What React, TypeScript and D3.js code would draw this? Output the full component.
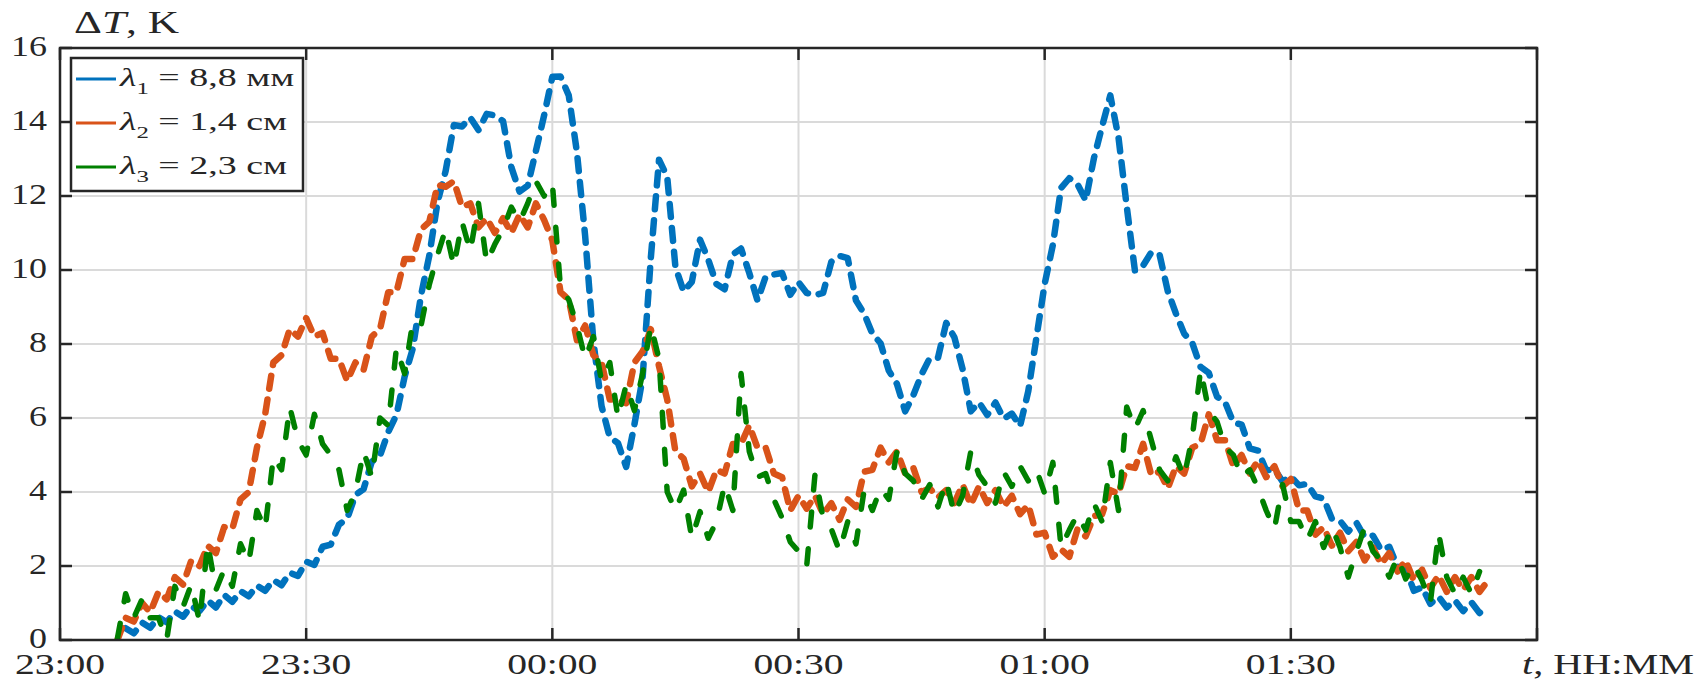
import React from "react";
import * as d3 from "d3";

// ---- data (minutes after 23:00, 1-min steps) ----
const xTickMinutes = [0, 30, 60, 90, 120, 150, 180];
const xTickLabels = ["23:00", "23:30", "00:00", "00:30", "01:00", "01:30", ""];
const yTicks = [0, 2, 4, 6, 8, 10, 12, 14, 16];
const seriesNames = ["8,8 мм", "1,4 см", "2,3 см"];

const blueStart = 8;
const blueValues = [
  0.32, 0.18, 0.47, 0.33, 0.62, 0.48, 0.77, 0.63, 0.92, 0.78, 1.07, 0.88, 1.22, 1.03, 1.32, 1.18, 1.47, 1.33, 1.62, 1.48,
  1.82, 1.73, 2.12, 2.03, 2.52, 2.58, 3.12, 3.28, 3.92, 4.08, 4.82, 4.98, 5.62, 6.08, 7.12, 7.88, 9.32, 10.38, 11.82, 12.68,
  13.92, 13.88, 14.12, 13.78, 14.22, 14.18, 14.02, 12.78, 12.12, 12.28, 13.22, 14.18, 15.22, 15.23, 14.72, 13.18, 10.92, 8.08, 6.32, 5.48,
  5.32, 4.68, 5.82, 7.08, 10.32, 12.98, 12.52, 10.08, 9.42, 9.68, 10.82, 10.28, 9.62, 9.48, 10.42, 10.58, 9.92, 9.18, 9.82, 9.88,
  9.92, 9.33, 9.67, 9.38, 9.32, 9.38, 10.22, 10.38, 10.32, 9.18, 8.82, 8.28, 8.02, 7.28, 6.92, 6.18, 6.62, 7.18, 7.62, 7.63,
  8.57, 8.18, 7.32, 6.18, 6.42, 6.08, 6.42, 5.98, 6.12, 5.78, 6.72, 8.18, 9.62, 10.68, 12.22, 12.48, 12.32, 11.88, 13.02, 13.88,
  14.72, 13.58, 11.72, 9.98, 10.12, 10.48, 10.42, 9.43, 8.82, 8.28, 8.02, 7.38, 7.22, 6.58, 6.42, 5.88, 5.82, 5.18, 5.12, 4.58,
  4.62, 4.28, 4.42, 4.18, 4.22, 3.88, 3.82, 3.28, 3.22, 2.93, 3.17, 2.78, 2.82, 2.43, 2.52, 1.98, 1.92, 1.33, 1.42, 0.98,
  1.17, 0.88, 1.07, 0.78, 1.02, 0.73, 0.92,
];

const orangeStart = 7;
const orangeValues = [
  0.0, 0.6, 0.5, 1.0, 0.75, 1.3, 1.1, 1.7, 1.5, 2.15, 2.0, 2.55, 2.35, 3.05, 3.0, 3.8, 4.0, 5.2, 6.1, 7.5,
  7.7, 8.4, 8.2, 8.7, 8.2, 8.3, 7.6, 7.6, 7.0, 7.5, 7.3, 8.2, 8.4, 9.4, 9.4, 10.3, 10.3, 11.1, 11.3, 12.3,
  12.25, 12.4, 11.7, 11.8, 11.15, 11.4, 11.0, 11.4, 11.0, 11.5, 11.15, 11.8, 11.35, 10.8, 9.4, 9.2, 8.1, 8.5, 7.7, 7.5,
  6.5, 6.5, 6.4, 7.5, 7.8, 8.4, 7.4, 6.5, 5.1, 4.9, 4.15, 4.5, 4.0, 4.6, 4.5, 5.3, 5.3, 5.8, 5.2, 5.2,
  4.5, 4.4, 3.5, 3.9, 3.55, 3.9, 3.4, 3.7, 3.25, 3.8, 3.6, 4.55, 4.6, 5.2, 4.8, 5.1, 4.5, 4.65, 4.0, 4.1,
  3.85, 4.05, 3.7, 4.2, 3.65, 4.15, 3.7, 4.05, 3.6, 3.9, 3.4, 3.65, 2.85, 2.9, 2.25, 2.45, 2.25, 3.0, 2.8, 3.35,
  3.4, 4.05, 3.95, 4.7, 4.65, 5.3, 4.45, 4.55, 4.1, 4.7, 4.5, 5.2, 5.3, 6.1, 5.4, 5.4, 4.7, 5.0, 4.5, 4.85,
  4.4, 4.7, 4.15, 4.35, 3.5, 3.5, 2.85, 3.05, 2.55, 2.9, 2.4, 2.65, 2.15, 2.5, 2.05, 2.35, 1.85, 2.15, 1.6, 1.9,
  1.4, 1.75, 1.3, 1.7, 1.35, 1.7, 1.3, 1.6,
];

const greenStart = 7;
const greenValues = [
  0.05, 1.25, 0.6, 1.1, 0.6, 0.6, 0.0, 1.45, 0.9, 1.5, 0.5, 2.6, 1.35, 1.9, 1.45, 2.6, 2.1, 3.5, 3.0, 4.95,
  4.6, 6.3, 5.4, 5.0, 6.1, 5.3, 5.0, 4.6, 3.5, 4.0, 5.1, 4.4, 6.0, 5.8, 7.9, 7.2, 8.6, 8.5, 9.6, 10.4,
  11.1, 10.1, 11.3, 10.5, 11.8, 10.2, 10.7, 11.1, 11.7, 11.3, 11.8, 12.4, 12.0, 12.35, 9.5, 9.2, 8.5, 7.6, 8.2, 7.0,
  7.5, 6.0, 6.9, 6.2, 7.2, 8.5, 7.6, 4.0, 3.5, 4.05, 2.75, 3.47, 2.75, 3.2, 4.2, 3.5, 7.2, 5.1, 4.4, 4.5,
  3.8, 3.3, 2.65, 2.4, 2.0, 4.45, 3.3, 3.0, 2.4, 3.2, 2.6, 4.05, 3.5, 4.1, 3.8, 5.1, 4.5, 4.3, 3.8, 4.2,
  3.6, 4.3, 3.4, 3.9, 5.1, 4.46, 4.15, 3.7, 4.55, 4.15, 4.7, 4.3, 4.6, 3.96, 4.8, 2.5, 2.97, 3.4, 2.97, 3.7,
  3.2, 4.8, 3.5, 6.3, 5.7, 6.2, 5.4, 4.6, 4.3, 4.95, 4.4, 5.5, 7.3, 6.2, 5.9, 5.2, 5.0, 4.4, 4.6, 4.1,
  3.5, 3.0, 4.2, 3.2, 3.2, 2.7, 3.2, 2.5, 3.05, 2.5, 1.7, 2.4, 3.05, 2.4, 2.15, 1.7, 2.25, 1.65, 2.05, 1.6,
  1.0, 2.9, 1.7, 1.25, 1.7, 1.25, 1.85,
];

const colors = ["#0072BD", "#D95319", "#008000"];

// ---- layout ----
const W = 1702;
const H = 681;
const left = 60;
const right = 1537;
const top = 48;
const bottom = 640;
const FONT = "'Liberation Serif', 'Times New Roman', serif";

function SText(props: {
  x: number;
  y: number;
  size: number;
  anchor?: string;
  sx?: number;
  children: React.ReactNode;
}) {
  const { x, y, size, anchor = "start", sx = 1.25, children } = props;
  return (
    <text
      transform={`translate(${x},${y}) scale(${sx},1)`}
      fontFamily={FONT}
      fontSize={size}
      textAnchor={anchor}
      fill="#262626"
    >
      {children}
    </text>
  );
}

export default function App() {
  const x = d3.scaleLinear().domain([0, 180]).range([left, right]);
  const y = d3.scaleLinear().domain([0, 16]).range([bottom, top]);

  const series = [
    { start: blueStart, values: blueValues, color: colors[0], width: 6.5, dash: "13 11" },
    { start: orangeStart, values: orangeValues, color: colors[1], width: 6.5, dash: "13 11" },
    { start: greenStart, values: greenValues, color: colors[2], width: 5.5, dash: "15 22" },
  ];

  const mkLine = (start: number) =>
    d3
      .line<number>()
      .x((_d, i) => x(start + i))
      .y((d) => y(d));

  const axisColor = "#262626";
  const gridColor = "#dadada";
  const tickLen = 12;

  return (
    <svg
      width={W}
      height={H}
      style={{ position: "absolute", left: 0, top: 0, background: "#fff" }}
    >
      <defs>
        <clipPath id="plot">
          <rect x={left} y={top - 4} width={right - left} height={bottom - top + 4} />
        </clipPath>
      </defs>
      <rect x={0} y={0} width={W} height={H} fill="#fff" />
      {/* grid */}
      {xTickMinutes.map((m) => (
        <line key={"gx" + m} x1={x(m)} x2={x(m)} y1={top} y2={bottom} stroke={gridColor} strokeWidth={2} />
      ))}
      {yTicks.map((v) => (
        <line key={"gy" + v} x1={left} x2={right} y1={y(v)} y2={y(v)} stroke={gridColor} strokeWidth={2} />
      ))}
      {/* data */}
      <g clipPath="url(#plot)">
        {series.map((s, k) => (
          <path
            key={"s" + k}
            d={mkLine(s.start)(s.values) || ""}
            fill="none"
            stroke={s.color}
            strokeWidth={s.width}
            strokeLinecap="round"
            strokeLinejoin="round"
            strokeDasharray={s.dash}
          />
        ))}
      </g>
      {/* axes box */}
      <rect x={left} y={top} width={right - left} height={bottom - top} fill="none" stroke={axisColor} strokeWidth={2.5} />
      {/* ticks */}
      {xTickMinutes.map((m) => (
        <g key={"tx" + m}>
          <line x1={x(m)} x2={x(m)} y1={bottom} y2={bottom - tickLen} stroke={axisColor} strokeWidth={2.5} />
          <line x1={x(m)} x2={x(m)} y1={top} y2={top + tickLen} stroke={axisColor} strokeWidth={2.5} />
        </g>
      ))}
      {yTicks.map((v) => (
        <g key={"ty" + v}>
          <line x1={left} x2={left + tickLen} y1={y(v)} y2={y(v)} stroke={axisColor} strokeWidth={2.5} />
          <line x1={right} x2={right - tickLen} y1={y(v)} y2={y(v)} stroke={axisColor} strokeWidth={2.5} />
        </g>
      ))}
      {/* tick labels */}
      {xTickMinutes.map((m, i) =>
        xTickLabels[i] ? (
          <SText key={"lx" + m} x={x(m)} y={674} size={30} anchor="middle" sx={1.32}>
            {xTickLabels[i]}
          </SText>
        ) : null
      )}
      {yTicks.map((v) => (
        <SText key={"ly" + v} x={47} y={y(v) + 8} size={30} anchor="end" sx={1.2}>
          {String(v)}
        </SText>
      ))}
      {/* axis labels */}
      <SText x={74} y={33} size={31} sx={1.4}>
        <tspan>Δ</tspan>
        <tspan fontStyle="italic">T</tspan>
        <tspan>, K</tspan>
      </SText>
      <SText x={1522} y={674} size={30} sx={1.34}>
        <tspan fontStyle="italic">t</tspan>
        <tspan>, HH:MM</tspan>
      </SText>
      {/* legend */}
      <rect x={71} y={58} width={232} height={133} fill="#fff" stroke={axisColor} strokeWidth={2.5} />
      {seriesNames.map((name, i) => {
        const cy = 79 + i * 44;
        return (
          <g key={"lg" + i}>
            <line x1={76} x2={116} y1={cy} y2={cy} stroke={colors[i]} strokeWidth={3} />
            <SText x={120} y={cy + 7} size={26} sx={1.46}>
              <tspan fontStyle="italic">λ</tspan>
              <tspan fontSize={17} dy={8}>{String(i + 1)}</tspan>
              <tspan dy={-8}>{" = " + name}</tspan>
            </SText>
          </g>
        );
      })}
    </svg>
  );
}
